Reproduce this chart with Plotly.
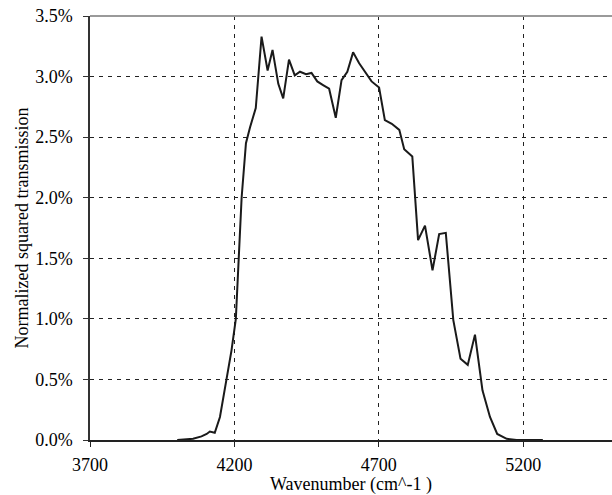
import plotly.graph_objects as go

# Wavenumber (cm^-1) and normalized squared transmission (%)
wavenumber = [4002, 4057, 4086, 4104, 4115, 4132, 4150, 4173, 4190, 4205,
              4216, 4225, 4240, 4254, 4274, 4294, 4315, 4332, 4352, 4369,
              4389, 4409, 4427, 4448, 4467, 4487, 4507, 4528, 4551, 4571,
              4591, 4611, 4632, 4652, 4675, 4701, 4721, 4745, 4771, 4788,
              4816, 4836, 4860, 4886, 4909, 4932, 4958, 4983, 5008, 5033,
              5059, 5085, 5110, 5143, 5177, 5268]
transmission_pct = [0.00, 0.01, 0.03, 0.05, 0.07, 0.06, 0.19, 0.50, 0.74, 1.00,
                    1.50, 2.00, 2.45, 2.58, 2.74, 3.33, 3.05, 3.22, 2.94, 2.82,
                    3.14, 3.01, 3.04, 3.02, 3.03, 2.96, 2.93, 2.90, 2.66, 2.97,
                    3.04, 3.20, 3.11, 3.04, 2.96, 2.91, 2.64, 2.61, 2.56, 2.40,
                    2.34, 1.65, 1.77, 1.40, 1.70, 1.71, 0.99, 0.67, 0.62, 0.87,
                    0.41, 0.19, 0.05, 0.01, 0.00, 0.00]

x_ticks = [3700, 4200, 4700, 5200]
y_ticks = [0, 0.005, 0.01, 0.015, 0.02, 0.025, 0.03, 0.035]

FONT = "Liberation Serif"

fig = go.Figure()
fig.add_trace(go.Scatter(
    x=wavenumber,
    y=[v / 100 for v in transmission_pct],
    mode="lines",
    line=dict(color="#1a1a1a", width=2),
    showlegend=False,
    hoverinfo="skip",
))

fig.update_layout(
    width=612, height=495,
    margin=dict(l=90, r=0, t=16, b=55),
    paper_bgcolor="white", plot_bgcolor="white",
    font=dict(family=FONT, size=18, color="black"),
    shapes=[dict(type="line", xref="paper", yref="paper", x0=0, x1=1, y0=1, y1=1,
                 line=dict(color="#9a9a9a", width=2), layer="above")],
)

fig.update_xaxes(
    range=[3700, 5507.5],
    tickvals=x_ticks, ticktext=[str(t) for t in x_ticks],
    showgrid=True, gridcolor="#222222", gridwidth=1, griddash="4px,5px",
    zeroline=False,
    showline=True, linecolor="#222222", linewidth=1.5,
    ticks="outside", ticklen=5, tickcolor="#222222", tickwidth=1,
    ticklabelstandoff=3,
    tickfont=dict(family=FONT, size=18, color="black"),
    title=dict(text="Wavenumber (cm^-1 )", font=dict(family=FONT, size=18, color="black"), standoff=6),
)
fig.update_yaxes(
    range=[0, 0.035],
    tickvals=y_ticks, tickformat=".1%",
    showgrid=True, gridcolor="#222222", gridwidth=1, griddash="4px,5px",
    zeroline=False,
    showline=True, linecolor="#333333", linewidth=1.5,
    ticks="outside", ticklen=5, tickcolor="#333333", tickwidth=1,
    ticklabelstandoff=7,
    tickfont=dict(family=FONT, size=18, color="black"),
    title=dict(text="Normalized squared transmission", font=dict(family=FONT, size=18, color="black"), standoff=2),
)

fig.write_html("out.html")
